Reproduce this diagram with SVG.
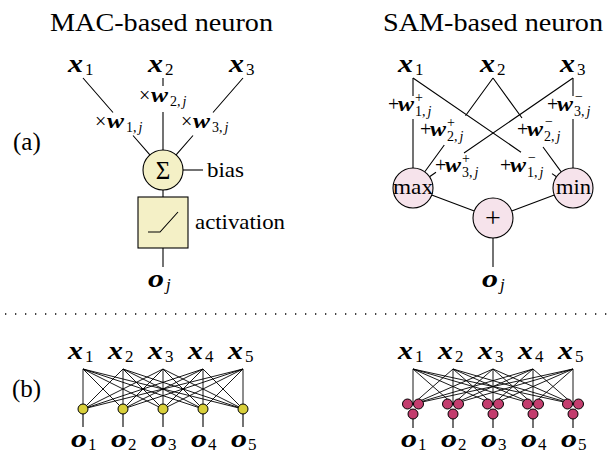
<svg xmlns="http://www.w3.org/2000/svg" width="615" height="454" viewBox="0 0 615 454">
<style>
.t{fill:#000}
.m{font-weight:bold;font-style:italic}
.i{font-style:italic}
.ln{stroke:#000;stroke-width:1.1;fill:none}
.thin{stroke:#000;stroke-width:0.9;fill:none}
.sy{fill:#f4f0c6;stroke:#000;stroke-width:1.1}
.sp{fill:#f6e3eb;stroke:#000;stroke-width:1.1}
.dy{fill:#d8cf3a;stroke:#000;stroke-width:1}
.dp{fill:#c33d6e;stroke:#000;stroke-width:1}
.big{font-size:25px}
.sub{font-size:17px}
.lab{font-size:20px}
.ls{font-size:14px}
</style>
<rect width="615" height="454" fill="#fff"/>
<g font-family="'Liberation Serif', 'Times New Roman', Tinos, 'DejaVu Serif', 'Noto Serif', serif">

<!-- titles and panel labels -->
<text class="t" x="50" y="31" font-size="25" textLength="223" lengthAdjust="spacingAndGlyphs">MAC-based neuron</text>
<text class="t" x="383" y="31" font-size="25" textLength="220" lengthAdjust="spacingAndGlyphs">SAM-based neuron</text>
<text class="t" x="13" y="150" font-size="25">(a)</text>
<text class="t" x="12" y="397" font-size="25">(b)</text>
<line x1="5" y1="314" x2="612" y2="314" stroke="#000" stroke-width="1.4" stroke-dasharray="1.3 8.7"/>

<!-- connectors -->
<g id="connectors">
  <path class="ln" d="M83 78L113 112.5M133 135.5L149.9 154.9"/>
  <path class="ln" d="M163 78L163 86M163 112L163 150"/>
  <path class="ln" d="M243 78L213 112.5M193 135.5L176.1 154.9"/>
  <path class="ln" d="M183 170L203 170"/>
  <path class="ln" d="M163 190L163 197"/>
  <path class="ln" d="M163 248L163 267"/>
  <path class="ln" d="M413 78L413 96M413 119L413 168"/>
  <path class="ln" d="M413 78L521 152.2M552 173.6L556.5 176.7"/>
  <path class="ln" d="M493 78L465.5 115.8M444.3 145L424.8 171.8"/>
  <path class="ln" d="M493 78L522 118M543 147L561.2 171.8"/>
  <path class="ln" d="M573 78L464 153M436 172.2L429.5 176.7"/>
  <path class="ln" d="M573 78L573 96M573 119L573 168"/>
  <path class="ln" d="M431.7 195L474.3 211M554.3 195L511.7 211"/>
  <path class="ln" d="M493 238L493 267"/>
  <path class="thin" d="M83 369L83 409M83 369L123 409M83 369L163 409M83 369L203 409M83 369L243 409
  M123 369L83 409M123 369L123 409M123 369L163 409M123 369L203 409M123 369L243 409
  M163 369L83 409M163 369L123 409M163 369L163 409M163 369L203 409M163 369L243 409
  M203 369L83 409M203 369L123 409M203 369L163 409M203 369L203 409M203 369L243 409
  M243 369L83 409M243 369L123 409M243 369L163 409M243 369L203 409M243 369L243 409"/>
  <path class="ln" d="M83 413L83 427M123 413L123 427M163 413L163 427M203 413L203 427M243 413L243 427"/>
  <path class="thin" d="M413 369L413 404M413 369L453 404M413 369L493 404M413 369L533 404M413 369L573 404
  M453 369L413 404M453 369L453 404M453 369L493 404M453 369L533 404M453 369L573 404
  M493 369L413 404M493 369L453 404M493 369L493 404M493 369L533 404M493 369L573 404
  M533 369L413 404M533 369L453 404M533 369L493 404M533 369L533 404M533 369L573 404
  M573 369L413 404M573 369L453 404M573 369L493 404M573 369L533 404M573 369L573 404"/>
  <path class="ln" d="M413 419L413 428M453 419L453 428M493 419L493 428M533 419L533 428M573 419L573 428"/>
</g>

<!-- MAC inputs -->
<g id="mac-x1"><text class="t m big" x="68" y="72" textLength="15" lengthAdjust="spacingAndGlyphs">x</text><text class="t sub" x="85" y="75">1</text></g>
<g id="mac-x2"><text class="t m big" x="148" y="72" textLength="15" lengthAdjust="spacingAndGlyphs">x</text><text class="t sub" x="165" y="75">2</text></g>
<g id="mac-x3"><text class="t m big" x="229" y="72" textLength="15" lengthAdjust="spacingAndGlyphs">x</text><text class="t sub" x="246" y="75">3</text></g>

<!-- MAC weight labels -->
<g id="mac-w1"><text class="t lab" x="95" y="128">×</text><text class="t m lab" x="107" y="128" textLength="17" lengthAdjust="spacingAndGlyphs">w</text><text class="t ls" x="126" y="132">1,<tspan class="i" dx="2">j</tspan></text></g>
<g id="mac-w2"><text class="t lab" x="139" y="102">×</text><text class="t m lab" x="151" y="102" textLength="17" lengthAdjust="spacingAndGlyphs">w</text><text class="t ls" x="170" y="106">2,<tspan class="i" dx="2">j</tspan></text></g>
<g id="mac-w3"><text class="t lab" x="181" y="128">×</text><text class="t m lab" x="193" y="128" textLength="17" lengthAdjust="spacingAndGlyphs">w</text><text class="t ls" x="212" y="132">3,<tspan class="i" dx="2">j</tspan></text></g>

<!-- MAC sum -->
<g id="mac-sum"><circle class="sy" cx="163" cy="170" r="20"/><text class="t" x="163" y="179" font-size="25" text-anchor="middle">Σ</text></g>
<g id="mac-bias"><text class="t" x="207" y="177" font-size="21" textLength="37" lengthAdjust="spacingAndGlyphs">bias</text></g>
<g id="mac-act"><rect class="sy" x="138" y="197" width="50" height="51"/><path class="ln" d="M148 232L160 232L178 212"/>
<text class="t" x="195" y="229" font-size="21" textLength="90" lengthAdjust="spacingAndGlyphs">activation</text></g>
<g id="mac-out"><text class="t m big" x="148" y="287" textLength="16" lengthAdjust="spacingAndGlyphs">o</text><text class="t sub i" x="166" y="290">j</text></g>

<!-- SAM inputs -->
<g id="sam-x1"><text class="t m big" x="398" y="72" textLength="15" lengthAdjust="spacingAndGlyphs">x</text><text class="t sub" x="415" y="75">1</text></g>
<g id="sam-x2"><text class="t m big" x="480" y="72" textLength="15" lengthAdjust="spacingAndGlyphs">x</text><text class="t sub" x="497" y="75">2</text></g>
<g id="sam-x3"><text class="t m big" x="560" y="72" textLength="15" lengthAdjust="spacingAndGlyphs">x</text><text class="t sub" x="577" y="75">3</text></g>

<!-- SAM weight labels -->
<g id="sam-w1p"><text class="t lab" x="388" y="111">+</text><text class="t m lab" x="398" y="111" textLength="16" lengthAdjust="spacingAndGlyphs">w</text><text class="t ls" x="415" y="102">+</text><text class="t ls" x="415" y="116">1,<tspan class="i" dx="2">j</tspan></text></g>
<g id="sam-w2p"><text class="t lab" x="420" y="136">+</text><text class="t m lab" x="430" y="136" textLength="16" lengthAdjust="spacingAndGlyphs">w</text><text class="t ls" x="447" y="127">+</text><text class="t ls" x="447" y="141">2,<tspan class="i" dx="2">j</tspan></text></g>
<g id="sam-w3p"><text class="t lab" x="435" y="172">+</text><text class="t m lab" x="445" y="172" textLength="16" lengthAdjust="spacingAndGlyphs">w</text><text class="t ls" x="462" y="163">+</text><text class="t ls" x="462" y="177">3,<tspan class="i" dx="2">j</tspan></text></g>
<g id="sam-w1m"><text class="t lab" x="500" y="172">+</text><text class="t m lab" x="510" y="172" textLength="16" lengthAdjust="spacingAndGlyphs">w</text><text class="t ls" x="528" y="162">−</text><text class="t ls" x="527" y="177">1,<tspan class="i" dx="2">j</tspan></text></g>
<g id="sam-w2m"><text class="t lab" x="517" y="136">+</text><text class="t m lab" x="527" y="136" textLength="16" lengthAdjust="spacingAndGlyphs">w</text><text class="t ls" x="545" y="126">−</text><text class="t ls" x="544" y="141">2,<tspan class="i" dx="2">j</tspan></text></g>
<g id="sam-w3m"><text class="t lab" x="547" y="111">+</text><text class="t m lab" x="557" y="111" textLength="16" lengthAdjust="spacingAndGlyphs">w</text><text class="t ls" x="575" y="101">−</text><text class="t ls" x="574" y="116">3,<tspan class="i" dx="2">j</tspan></text></g>

<!-- SAM nodes -->
<g id="sam-max"><circle class="sp" cx="413" cy="188" r="20"/><text class="t" x="393" y="194" font-size="21" textLength="40" lengthAdjust="spacingAndGlyphs">max</text></g>
<g id="sam-min"><circle class="sp" cx="573" cy="188" r="20"/><text class="t" x="556" y="194" font-size="21" textLength="35" lengthAdjust="spacingAndGlyphs">min</text></g>
<g id="sam-plus"><circle class="sp" cx="493" cy="218" r="20"/><text class="t" x="493" y="227" font-size="28" text-anchor="middle">+</text></g>
<g id="sam-out"><text class="t m big" x="482" y="287" textLength="16" lengthAdjust="spacingAndGlyphs">o</text><text class="t sub i" x="500" y="290">j</text></g>

<!-- (b) left -->
<g id="b-left-x">
<text class="t m big" x="68" y="359" textLength="15" lengthAdjust="spacingAndGlyphs">x</text><text class="t sub" x="85" y="362">1</text>
<text class="t m big" x="108" y="359" textLength="15" lengthAdjust="spacingAndGlyphs">x</text><text class="t sub" x="125" y="362">2</text>
<text class="t m big" x="148" y="359" textLength="15" lengthAdjust="spacingAndGlyphs">x</text><text class="t sub" x="165" y="362">3</text>
<text class="t m big" x="188" y="359" textLength="15" lengthAdjust="spacingAndGlyphs">x</text><text class="t sub" x="205" y="362">4</text>
<text class="t m big" x="228" y="359" textLength="15" lengthAdjust="spacingAndGlyphs">x</text><text class="t sub" x="245" y="362">5</text>
</g>
<g id="b-left-nodes">
<circle class="dy" cx="83" cy="409" r="5"/><circle class="dy" cx="123" cy="409" r="5"/><circle class="dy" cx="163" cy="409" r="5"/><circle class="dy" cx="203" cy="409" r="5"/><circle class="dy" cx="243" cy="409" r="5"/>
</g>
<g id="b-left-o">
<text class="t m big" x="71" y="447" textLength="16" lengthAdjust="spacingAndGlyphs">o</text><text class="t sub" x="88" y="450">1</text>
<text class="t m big" x="111" y="447" textLength="16" lengthAdjust="spacingAndGlyphs">o</text><text class="t sub" x="128" y="450">2</text>
<text class="t m big" x="151" y="447" textLength="16" lengthAdjust="spacingAndGlyphs">o</text><text class="t sub" x="168" y="450">3</text>
<text class="t m big" x="191" y="447" textLength="16" lengthAdjust="spacingAndGlyphs">o</text><text class="t sub" x="208" y="450">4</text>
<text class="t m big" x="231" y="447" textLength="16" lengthAdjust="spacingAndGlyphs">o</text><text class="t sub" x="248" y="450">5</text>
</g>

<!-- (b) right -->
<g id="b-right-x">
<text class="t m big" x="398" y="359" textLength="15" lengthAdjust="spacingAndGlyphs">x</text><text class="t sub" x="415" y="362">1</text>
<text class="t m big" x="438" y="359" textLength="15" lengthAdjust="spacingAndGlyphs">x</text><text class="t sub" x="455" y="362">2</text>
<text class="t m big" x="478" y="359" textLength="15" lengthAdjust="spacingAndGlyphs">x</text><text class="t sub" x="495" y="362">3</text>
<text class="t m big" x="518" y="359" textLength="15" lengthAdjust="spacingAndGlyphs">x</text><text class="t sub" x="535" y="362">4</text>
<text class="t m big" x="558" y="359" textLength="15" lengthAdjust="spacingAndGlyphs">x</text><text class="t sub" x="575" y="362">5</text>
</g>
<g id="b-right-nodes">
<circle class="dp" cx="407.5" cy="404" r="5"/><circle class="dp" cx="418.5" cy="404" r="5"/><circle class="dp" cx="413" cy="414" r="5"/>
<circle class="dp" cx="447.5" cy="404" r="5"/><circle class="dp" cx="458.5" cy="404" r="5"/><circle class="dp" cx="453" cy="414" r="5"/>
<circle class="dp" cx="487.5" cy="404" r="5"/><circle class="dp" cx="498.5" cy="404" r="5"/><circle class="dp" cx="493" cy="414" r="5"/>
<circle class="dp" cx="527.5" cy="404" r="5"/><circle class="dp" cx="538.5" cy="404" r="5"/><circle class="dp" cx="533" cy="414" r="5"/>
<circle class="dp" cx="567.5" cy="404" r="5"/><circle class="dp" cx="578.5" cy="404" r="5"/><circle class="dp" cx="573" cy="414" r="5"/>
</g>
<g id="b-right-o">
<text class="t m big" x="401" y="447" textLength="16" lengthAdjust="spacingAndGlyphs">o</text><text class="t sub" x="418" y="450">1</text>
<text class="t m big" x="441" y="447" textLength="16" lengthAdjust="spacingAndGlyphs">o</text><text class="t sub" x="458" y="450">2</text>
<text class="t m big" x="481" y="447" textLength="16" lengthAdjust="spacingAndGlyphs">o</text><text class="t sub" x="498" y="450">3</text>
<text class="t m big" x="521" y="447" textLength="16" lengthAdjust="spacingAndGlyphs">o</text><text class="t sub" x="538" y="450">4</text>
<text class="t m big" x="561" y="447" textLength="16" lengthAdjust="spacingAndGlyphs">o</text><text class="t sub" x="578" y="450">5</text>
</g>
</g>
</svg>
